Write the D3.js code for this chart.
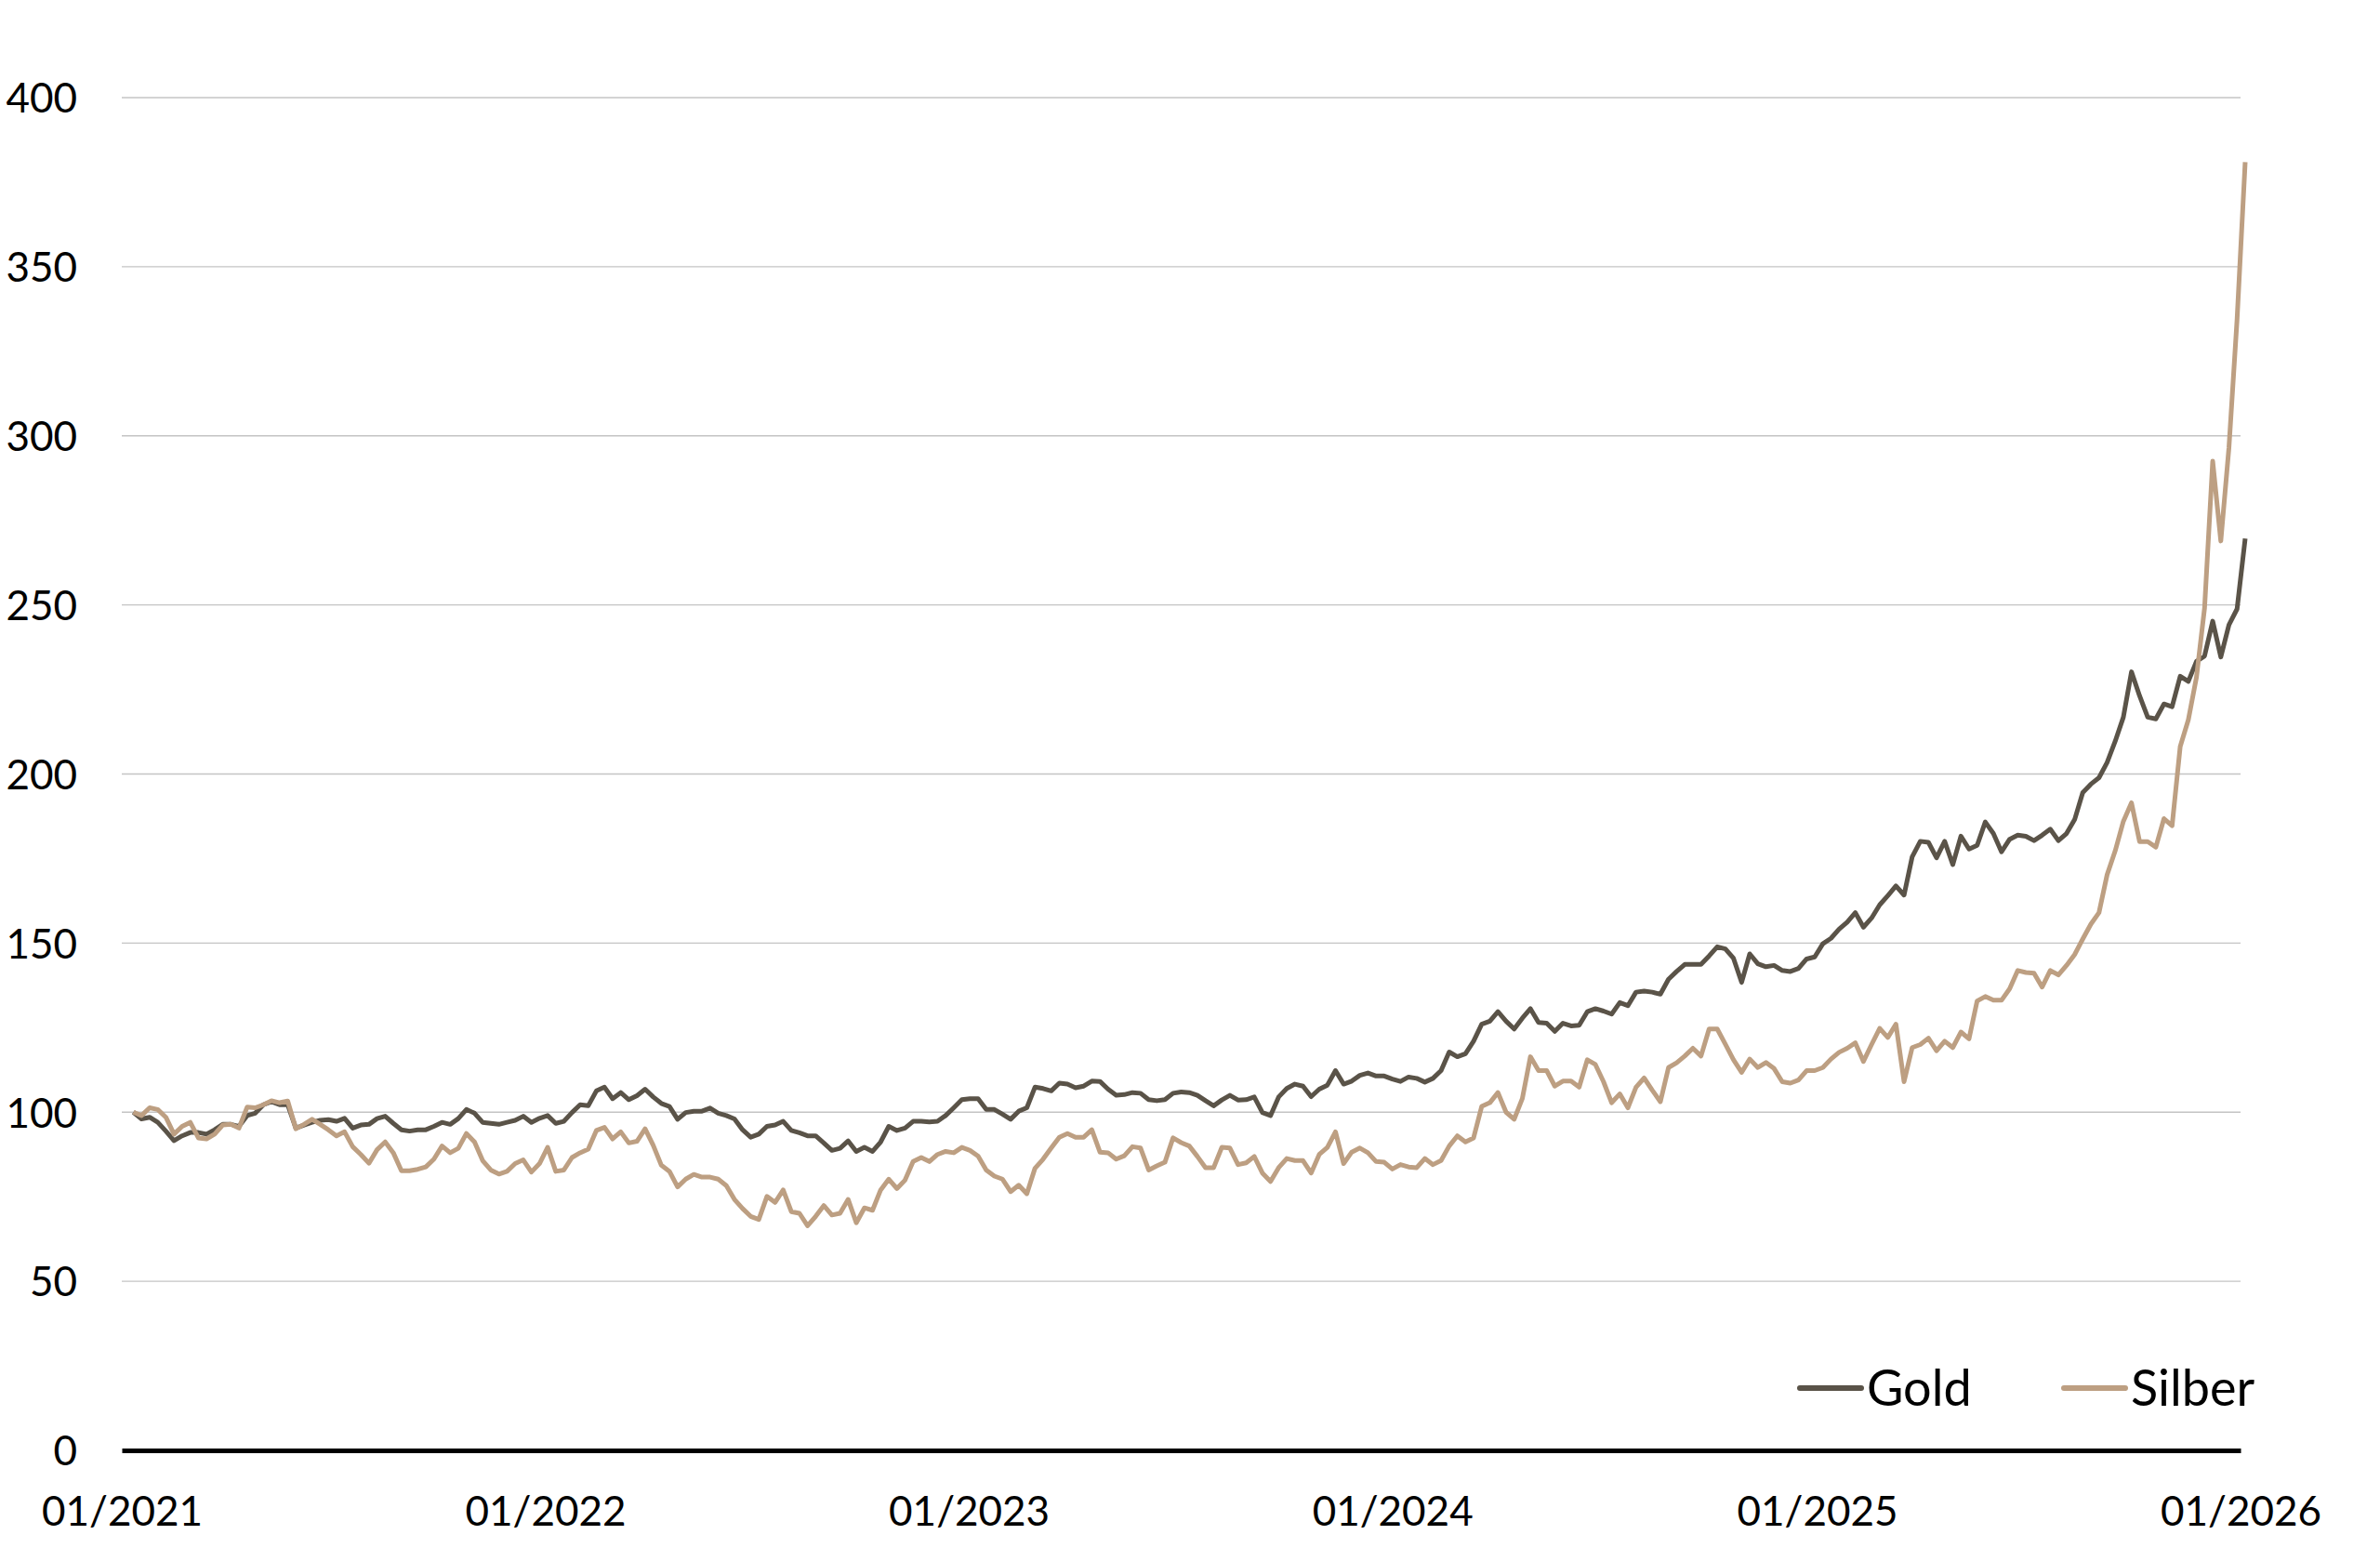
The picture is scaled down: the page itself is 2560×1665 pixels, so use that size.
<!DOCTYPE html>
<html>
<head>
<meta charset="utf-8">
<script src="https://cdn.jsdelivr.net/npm/d3@7"></script>
<style>
  body { margin: 0; background: #fff; }
  text { font-family: Lato, "Open Sans", sans-serif; fill: #000; }
</style>
</head>
<body>
<div id="chart"></div>
<script>
// weekly index values, 100 = first week of 2021
var gold = [
  100, 98, 98.5, 97, 94.4, 91.6, 93, 94, 94, 93.5, 94.8, 96.4, 96.4, 95.8, 99, 99.7, 102.2, 103.1, 102.2, 102.2,
  95.3, 96.2, 97, 97.6, 97.8, 97.3, 98.2, 95.3, 96.2, 96.4, 98.1, 98.8, 96.7, 94.8, 94.4, 94.8, 94.8, 95.8, 97, 96.4,
  98.1, 100.8, 99.7, 97, 96.7, 96.4, 97, 97.6, 98.8, 97, 98.2, 99, 96.7,
  97.3, 99.9, 102.2, 101.9, 106.3, 107.4, 104, 105.8, 103.7, 104.9, 106.8, 104.5, 102.6, 101.7, 97.9, 99.9, 100.3, 100.3,
  101.2, 99.7, 99, 98, 94.8, 92.6, 93.5, 95.8, 96.2, 97.3, 94.6, 93.9, 93, 93, 90.9, 88.7, 89.3, 91.5, 88.4, 89.6,
  88.4, 91.2, 95.8, 94.6, 95.3, 97.3, 97.3, 97.1, 97.3, 99, 101.3, 103.7, 104, 104, 100.8,
  100.8, 99.4, 97.9, 100.3, 101.3, 107.4, 107, 106.3, 108.6, 108.3, 107.2, 107.7, 109.2, 109.1, 106.8, 105, 105.2,
  105.8, 105.6, 103.7, 103.4, 103.7, 105.6, 106, 105.8, 105, 103.4, 101.9, 103.6, 105, 103.6, 103.7, 104.5, 99.9, 99,
  104.5, 107, 108.3, 107.7, 104.6, 106.8, 108, 112.3, 108.3, 109.2, 110.9, 111.6, 110.7, 110.7, 109.8, 109.1, 110.4,
  110, 108.9, 110, 112.3, 117.8, 116.4, 117.3, 121, 126, 126.9, 129.7, 126.9, 124.6, 127.8, 130.6, 126.5, 126.3,
  123.9, 126.3, 125.5, 125.7, 129.7, 130.6, 129.9, 129, 132.4, 131.5, 135.5, 135.8, 135.5, 134.9, 139.3, 141.6, 143.7,
  143.7, 143.7, 146.2, 148.9, 148.3, 145.5, 138.4, 146.8, 143.9, 143, 143.4, 141.9, 141.6, 142.5, 145.3, 145.9, 149.8,
  151.4, 154.1,
  156.2, 159, 154.7, 157.4, 161.3, 164, 166.9, 164.2, 175.5, 180.1, 179.8, 175.2, 180.1, 173.2, 181.6, 177.8, 178.9,
  185.8, 182.4, 177, 180.7, 181.9, 181.6, 180.3, 181.9, 183.7, 180.3, 182.4, 186.5, 194.5, 197, 198.9,
  203.4, 209.7, 216.8, 230.2, 223.1, 216.8, 216.3, 220.7, 219.9, 228.9, 227.4, 233.3, 234.9, 245.2, 234.6, 244.1,
  248.8, 269.6
];

var silver = [
  100, 99, 101.3, 100.8, 98.5, 93.5, 95.8, 97, 92.4, 92.1, 93.5, 96.2, 96.4, 95.3, 101.5, 101.3, 102.2, 103.4, 102.8,
  103.3, 95.1, 96.4, 97.9, 96.4, 94.8, 93, 94.2, 89.8, 87.5, 84.9, 88.9, 91.2, 88, 82.7, 82.7, 83.1, 83.8, 86.1, 90,
  88, 89.3, 93.7, 91.2, 85.7, 82.9, 81.7, 82.5, 84.8, 85.9, 82.3, 84.8, 89.6, 82.5,
  82.9, 86.6, 88, 89.1, 94.6, 95.5, 92.1, 94.2, 90.9, 91.4, 95.1, 90.2, 84.3, 82.5, 77.9, 80.2, 81.6, 80.8, 80.8,
  80.2, 78.3, 74.2, 71.5, 69.2, 68.3, 75.1, 73.3, 77, 70.6, 70.1, 66.4, 69.2, 72.4, 69.6, 70.1, 74.2, 67.3, 71.7, 71,
  77, 80.2, 77.4, 79.9, 85.4, 86.6, 85.4, 87.5, 88.4, 88, 89.6, 88.7, 87, 82.9,
  81.1, 80.2, 76.5, 78.4, 75.9, 83.4, 86.1, 89.4, 92.6, 93.7, 92.6, 92.6, 94.8, 88.2, 88, 86.1, 87.1, 89.8, 89.4,
  82.9, 84.1, 85.2, 92.4, 91, 90, 86.9, 83.6, 83.6, 89.6, 89.4, 84.5, 85, 86.9, 82, 79.5, 83.6, 86.3, 85.7, 85.7, 82,
  87.5, 89.6, 94.2, 84.8, 88.2, 89.4, 88, 85.4, 85.2, 83.2, 84.5, 83.8,
  83.6, 86.3, 84.5, 85.7, 90, 93, 91.2, 92.4, 101.7, 102.8, 105.8, 100, 97.9, 104, 116.4, 112.3, 112.3, 107.7, 109.2,
  109.2, 107.4, 115.5, 114.1, 109, 102.8, 105.4, 101.3, 107.4, 110.1, 106.5, 103.1, 113.2, 114.6, 116.6, 118.9, 116.6,
  124.6, 124.6, 120.1, 115.5, 111.8, 115.7, 113.2, 114.7, 112.9, 109, 108.6, 109.5, 112.3, 112.3, 113.2, 115.7,
  117.7, 118.9, 120.5, 115, 120, 124.8, 122.1, 126, 109, 119.1, 120, 121.9, 118.2, 121, 119.1, 123.7, 121.7, 132.9,
  134.2, 133.1, 133.1, 136.5, 141.9, 141.3, 141.1, 137, 141.9, 140.6, 143.4, 146.6, 151.2, 155.6, 159,
  170.2, 177.3, 186, 191.5, 180, 180, 178.4, 186.8, 184.7, 208.1, 216, 228.6, 249.1, 292.5, 268.9, 296.5, 334.4, 380.9
];

var yTicks = [0, 50, 100, 150, 200, 250, 300, 350, 400];
var xTickYears = [2021, 2022, 2023, 2024, 2025, 2026];
var seriesNames = ["Gold", "Silber"];
var seriesColors = ["#5a5348", "#bd9f82"];

var width = 2560, height = 1665;
var firstWeek = new Date(2021, 0, 11);

var dates = gold.map(function(d, i){ return d3.timeWeek.offset(firstWeek, i); });

var x = d3.scaleTime()
          .domain([new Date(2021, 0, 1), new Date(2026, 0, 1)])
          .range([131, 2410]);

var y = d3.scaleLinear()
          .domain([0, 400])
          .range([1560, 105]);

var svg = d3.select("#chart")
            .append("svg")
            .attr("width", width)
            .attr("height", height);

// horizontal gridlines
svg.selectAll(".grid")
   .data(yTicks.filter(function(d){ return d > 0; }))
   .enter()
   .append("line")
   .attr("class", "grid")
   .attr("x1", x.range()[0])
   .attr("x2", x.range()[1])
   .attr("y1", function(d){ return y(d); })
   .attr("y2", function(d){ return y(d); })
   .attr("stroke", "#c4c4c4")
   .attr("stroke-width", 1.4);

// y labels
var yAxis = d3.axisLeft(y).tickValues(yTicks).tickSize(0).tickPadding(0);
svg.append("g")
   .attr("transform", "translate(83,0)")
   .call(yAxis)
   .call(function(g){ g.select(".domain").remove(); })
   .selectAll("text")
   .attr("font-family", "Lato, sans-serif")
   .attr("font-size", 44)
   .attr("fill", "#000")
   .attr("dy", "0.36em");

// x axis: baseline + labels
var xAxis = d3.axisBottom(x)
              .tickValues(xTickYears.map(function(yr){ return new Date(yr, 0, 1); }))
              .tickFormat(d3.timeFormat("%m/%Y"))
              .tickSize(0)
              .tickPadding(0);
var gx = svg.append("g")
            .attr("transform", "translate(0,1560)")
            .call(xAxis);
gx.select(".domain")
  .attr("stroke", "#000")
  .attr("stroke-width", 5);
gx.selectAll("text")
  .attr("font-family", "Lato, sans-serif")
  .attr("font-size", 44)
  .attr("fill", "#000")
  .attr("dy", null)
  .attr("y", 81);

// lines
var line = d3.line()
             .x(function(d, i){ return x(dates[i]); })
             .y(function(d){ return y(d); });

[gold, silver].forEach(function(series, k){
  svg.append("path")
     .datum(series)
     .attr("d", line)
     .attr("fill", "none")
     .attr("stroke", seriesColors[k])
     .attr("stroke-width", 5)
     .attr("stroke-linejoin", "round");
});

// legend
var legendX = [1936, 2220];
var legend = svg.selectAll(".legend")
                .data(seriesNames)
                .enter()
                .append("g")
                .attr("class", "legend")
                .attr("transform", function(d, i){ return "translate(" + legendX[i] + ",1493)"; });
legend.append("line")
      .attr("x1", 0)
      .attr("x2", 66)
      .attr("stroke", function(d, i){ return seriesColors[i]; })
      .attr("stroke-width", 6)
      .attr("stroke-linecap", "round");
legend.append("text")
      .attr("x", 72)
      .attr("y", 19)
      .attr("font-size", 54)
      .text(function(d){ return d; });
</script>
</body>
</html>
